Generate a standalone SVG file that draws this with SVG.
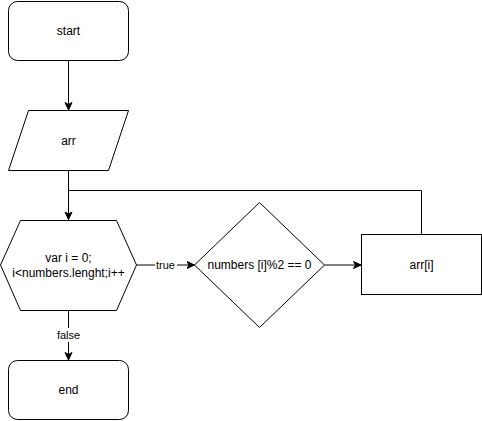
<svg xmlns="http://www.w3.org/2000/svg" width="482" height="421" viewBox="0 0 482 421">
  <style>
    .shape { fill: #ffffff; stroke: #000000; stroke-width: 1; }
    .edge { fill: none; stroke: #000000; stroke-width: 1; }
    .label { font-family: "Liberation Sans", Arial, sans-serif; font-size: 12px; fill: #000000; text-anchor: middle; dominant-baseline: central; }
    .elabel { font-family: "Liberation Sans", Arial, sans-serif; font-size: 11px; fill: #000000; text-anchor: middle; dominant-baseline: central; }
  </style>
  <defs>
    <marker id="arrow" markerUnits="userSpaceOnUse" markerWidth="10" markerHeight="10" refX="8" refY="4" orient="auto">
      <path d="M0.5,0.5 L8,4 L0.5,7.5 L2.5,4 Z" fill="#000000" stroke="#000000" stroke-width="1"/>
    </marker>
  </defs>
  <rect width="482" height="421" fill="#ffffff"/>

  <g id="connectors">
    <path class="edge" d="M68.5,60.5 L68.5,110" marker-end="url(#arrow)"/>
    <path class="edge" d="M68.5,170.5 L68.5,219.5" marker-end="url(#arrow)"/>
    <path class="edge" d="M421.5,234.5 L421.5,190.5 L68.5,190.5"/>
    <path class="edge" d="M136.5,265 L194.5,265" marker-end="url(#arrow)"/>
    <rect x="155" y="258" width="22" height="14" fill="#ffffff"/>
    <text class="elabel" x="165.5" y="265">true</text>
    <path class="edge" d="M324.5,265 L361,265" marker-end="url(#arrow)"/>
    <path class="edge" d="M68.5,310.5 L68.5,360" marker-end="url(#arrow)"/>
    <rect x="55" y="328" width="27" height="14" fill="#ffffff"/>
    <text class="elabel" x="68.5" y="335">false</text>
  </g>

  <g id="start">
    <rect class="shape" x="8.5" y="1.5" width="120" height="59" rx="9" ry="9"/>
    <text class="label" x="68.5" y="31">start</text>
  </g>

  <g id="input-arr">
    <polygon class="shape" points="28.5,110.5 128.5,110.5 108.5,170.5 8.5,170.5"/>
    <text class="label" x="68.5" y="140.5">arr</text>
  </g>

  <g id="loop">
    <polygon class="shape" points="20.5,220.5 116.5,220.5 136.5,265 116.5,310.5 20.5,310.5 0.5,265"/>
    <text class="label" x="68.5" y="258">var i = 0;</text>
    <text class="label" x="68.5" y="273">i&lt;numbers.lenght;i++</text>
  </g>

  <g id="condition">
    <polygon class="shape" points="259.5,202.5 324.5,265 259.5,327.5 194.5,265"/>
    <text class="label" x="259.5" y="265">numbers [i]%2 == 0</text>
  </g>

  <g id="output">
    <rect class="shape" x="361.5" y="234.5" width="120" height="60"/>
    <text class="label" x="421.5" y="265">arr[i]</text>
  </g>

  <g id="end">
    <rect class="shape" x="8.5" y="360.5" width="120" height="59" rx="9" ry="9"/>
    <text class="label" x="68.5" y="390">end</text>
  </g>
</svg>
